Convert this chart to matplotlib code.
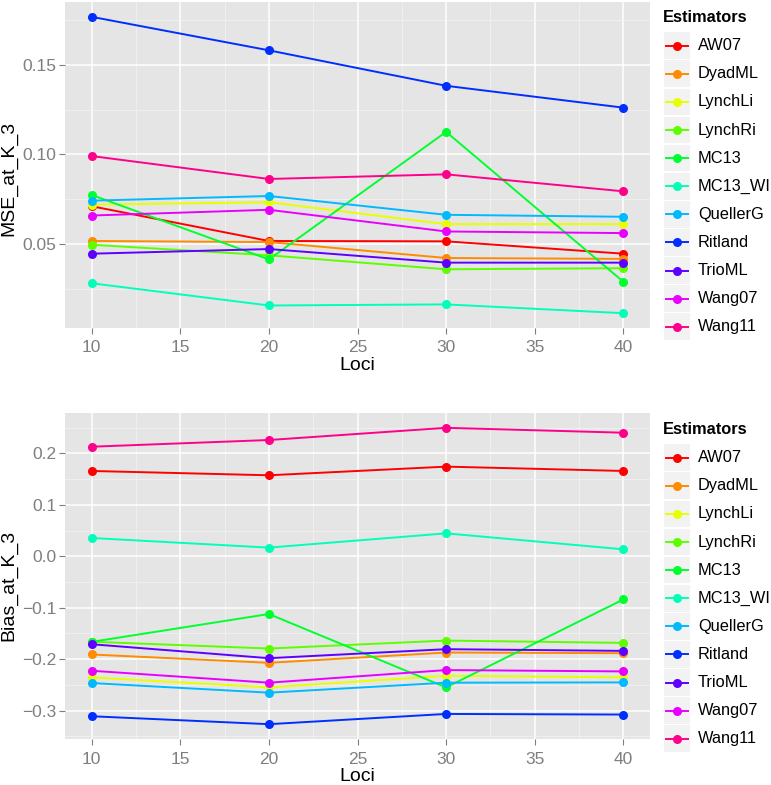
import numpy as np
import matplotlib.pyplot as plt
from matplotlib.patches import Rectangle
from matplotlib.lines import Line2D

plt.rcParams['font.family'] = ['Liberation Sans', 'DejaVu Sans']

loci = [10, 20, 30, 40]
estimators = ["AW07", "DyadML", "LynchLi", "LynchRi", "MC13", "MC13_WI",
              "QuellerG", "Ritland", "TrioML", "Wang07", "Wang11"]
colors = ["#FF0000", "#FF8B00", "#E8FF00", "#5DFF00", "#00FF2E", "#00FFB9",
          "#00B9FF", "#002EFF", "#5D00FF", "#E800FF", "#FF008B"]

# MSE at K_3, one list per estimator (loci 10, 20, 30, 40)
mse_aw07 = [0.0711, 0.0517, 0.0515, 0.0446]
mse_dyadml = [0.0517, 0.0511, 0.0422, 0.0417]
mse_lynchli = [0.0720, 0.0733, 0.0611, 0.0611]
mse_lynchri = [0.0496, 0.0437, 0.0359, 0.0365]
mse_mc13 = [0.0774, 0.0414, 0.1126, 0.0289]
mse_mc13_wi = [0.0281, 0.0157, 0.0163, 0.0114]
mse_quellerg = [0.0742, 0.0768, 0.0663, 0.0652]
mse_ritland = [0.1768, 0.1581, 0.1383, 0.1261]
mse_trioml = [0.0446, 0.0472, 0.0396, 0.0396]
mse_wang07 = [0.0659, 0.0691, 0.0570, 0.0561]
mse_wang11 = [0.0991, 0.0863, 0.0889, 0.0794]

# Bias at K_3
bias_aw07 = [0.1657, 0.1573, 0.1741, 0.1657]
bias_dyadml = [-0.1908, -0.2070, -0.1870, -0.1883]
bias_lynchli = [-0.2353, -0.2547, -0.2321, -0.2353]
bias_lynchri = [-0.1660, -0.1792, -0.1638, -0.1683]
bias_mc13 = [-0.1663, -0.1122, -0.2547, -0.0838]
bias_mc13_wi = [0.0355, 0.0168, 0.0445, 0.0135]
bias_quellerg = [-0.2463, -0.2650, -0.2456, -0.2450]
bias_ritland = [-0.3108, -0.3262, -0.3063, -0.3075]
bias_trioml = [-0.1709, -0.1980, -0.1805, -0.1838]
bias_wang07 = [-0.2224, -0.2456, -0.2211, -0.2237]
bias_wang11 = [0.2128, 0.2258, 0.2495, 0.2400]

mse = [mse_aw07, mse_dyadml, mse_lynchli, mse_lynchri, mse_mc13, mse_mc13_wi,
       mse_quellerg, mse_ritland, mse_trioml, mse_wang07, mse_wang11]
bias = [bias_aw07, bias_dyadml, bias_lynchli, bias_lynchri, bias_mc13, bias_mc13_wi,
        bias_quellerg, bias_ritland, bias_trioml, bias_wang07, bias_wang11]

W, H = 771, 785
GREY50 = "#7F7F7F"


def px_axes(fig, x0, y0, x1, y1):
    # axes placed by pixel box (top-left origin)
    return fig.add_axes([x0 / W, 1 - y1 / H, (x1 - x0) / W, (y1 - y0) / H])


def style_panel(ax, yticks, yminor, ylabel, label_y):
    ax.set_facecolor("#E5E5E5")
    for s in ax.spines.values():
        s.set_visible(False)
    ax.set_xticks([10, 15, 20, 25, 30, 35, 40])
    ax.set_xticks([12.5, 17.5, 22.5, 27.5, 32.5, 37.5], minor=True)
    ax.set_yticks(yticks)
    ax.set_yticks(yminor, minor=True)
    ax.grid(which="major", color="white", lw=1.1)
    ax.grid(which="minor", color="#F2F2F2", lw=0.6)
    ax.set_axisbelow(True)
    ax.tick_params(which="major", length=4, width=0.8, color=GREY50,
                   labelcolor=GREY50, labelsize=12.5, pad=2)
    ax.tick_params(axis="x", which="major", pad=5)
    ax.tick_params(which="minor", length=0)
    ax.set_xlabel("Loci", fontsize=14, labelpad=1)
    ax.set_ylabel(ylabel, fontsize=14)
    ax.yaxis.set_label_coords(-0.081, label_y)


def draw_panel(ax, values):
    for vals, c in zip(values, colors):
        ax.plot(loci, vals, color=c, lw=1.4, zorder=2)
    for vals, c in zip(values, colors):
        ax.plot(loci, vals, "o", color=c, ms=6.5, mec="none", zorder=3)
    ax.set_xlim(8.5, 41.5)
    ax.margins(y=0.05)


def draw_legend(fig, y_top):
    lax = px_axes(fig, 655, y_top, 771, y_top + 350)
    lax.set_xlim(655, 771)
    lax.set_ylim(y_top + 350, y_top)
    lax.axis("off")
    lax.text(663, y_top + 18, "Estimators", fontsize=11.8, fontweight="bold",
             va="center", ha="left")
    step = 28.1
    for i, (name, c) in enumerate(zip(estimators, colors)):
        yc = y_top + 45.7 + i * step
        lax.add_patch(Rectangle((664, yc - step / 2 + 0.7), 26, step - 1.4,
                                facecolor="#F2F2F2", edgecolor="none"))
        lax.add_line(Line2D([666, 688], [yc, yc], color=c, lw=1.4))
        lax.add_line(Line2D([677], [yc], marker="o", color=c, ms=6.5, mec="none"))
        lax.text(698, yc, name, fontsize=11.8, va="center", ha="left")


fig = plt.figure(figsize=(W / 100, H / 100), dpi=100)

ax1 = px_axes(fig, 65, 2, 650, 328)
draw_panel(ax1, mse)
style_panel(ax1, [0.05, 0.10, 0.15], [0.025, 0.075, 0.125, 0.175],
            "MSE_at_K_3", 0.46)
ax1.yaxis.set_major_formatter(plt.FormatStrFormatter("%.2f"))

ax2 = px_axes(fig, 65, 413, 650, 739)
draw_panel(ax2, bias)
style_panel(ax2, [-0.3, -0.2, -0.1, 0.0, 0.1, 0.2],
            [-0.35, -0.25, -0.15, -0.05, 0.05, 0.15, 0.25],
            "Bias_at_K_3", 0.47)
ax2.yaxis.set_major_formatter(plt.FuncFormatter(
    lambda v, p: f"{v:.1f}".replace("-", "\u2212")))

draw_legend(fig, 0)
draw_legend(fig, 412)

fig.savefig("out.png", dpi=100)
